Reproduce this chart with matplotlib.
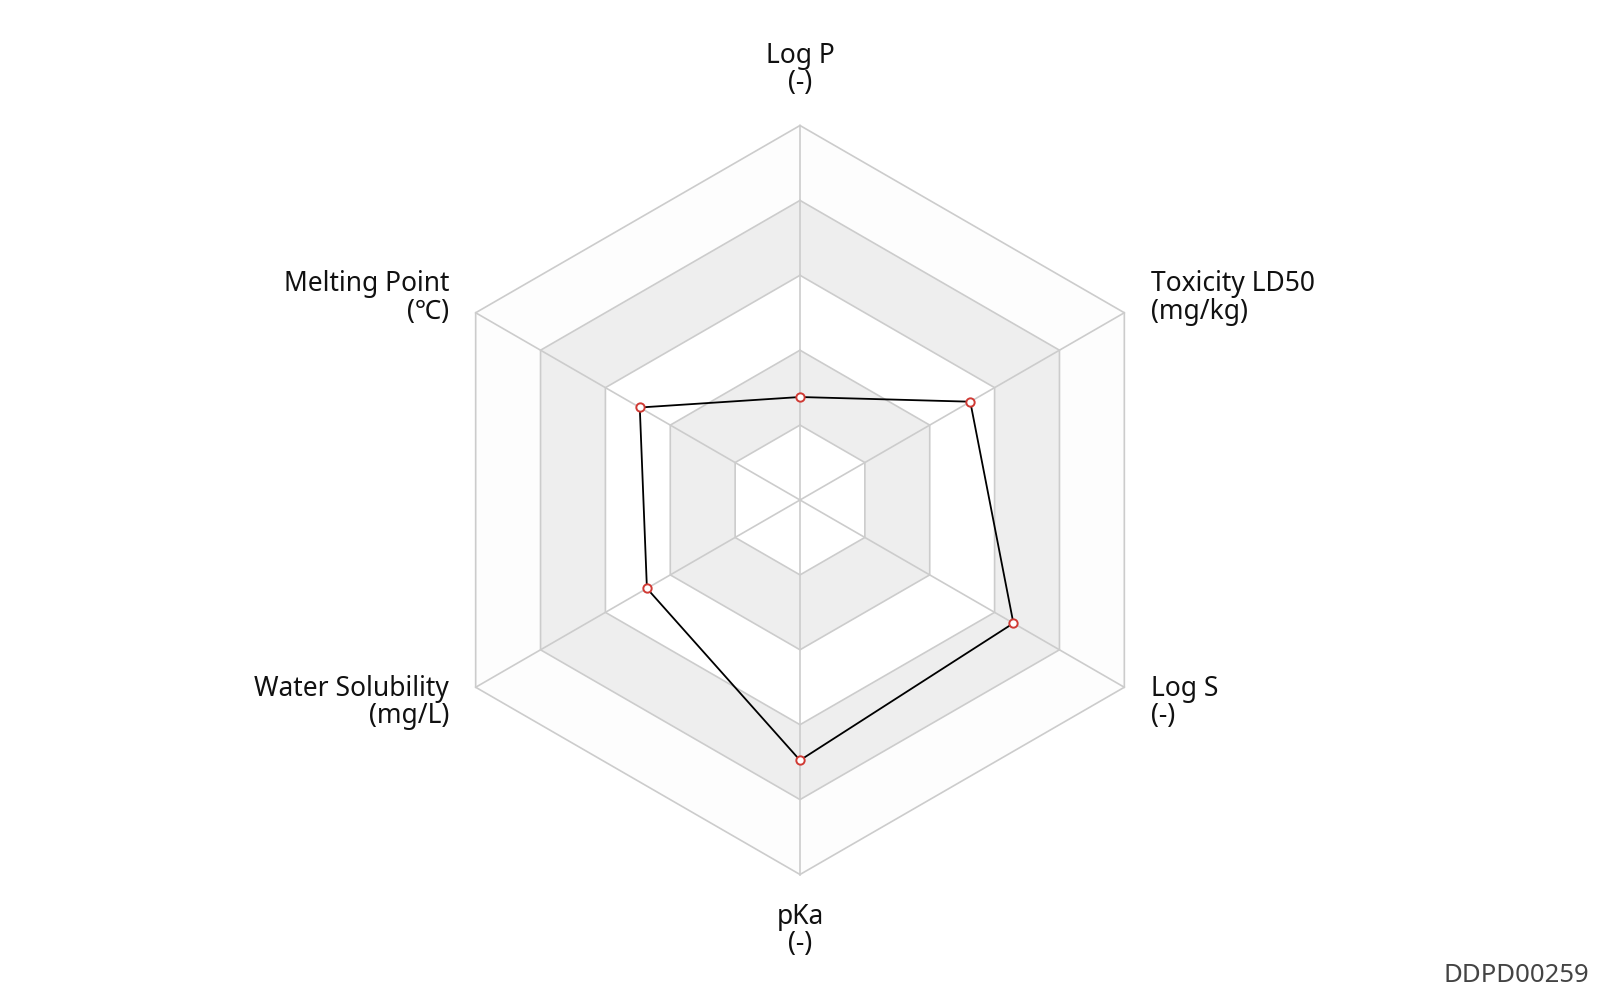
import numpy as np
import matplotlib
matplotlib.use('Agg')
import matplotlib.pyplot as plt

plt.rcParams['font.family'] = ['Noto Sans', 'DejaVu Sans']

# 指标与数值 (归一化到 0~1)
indicators = ['Log P', 'Toxicity LD50', 'Log S', 'pKa', 'Water Solubility', 'Melting Point']
units = ['(-)', '(mg/kg)', '(-)', '(-)', '(mg/L)', '(℃)']
values = [0.275, 0.525, 0.658, 0.695, 0.472, 0.494]
levels = [0.2, 0.4, 0.6, 0.8, 1.0]
band_colors = ['#ffffff', '#eeeeee', '#ffffff', '#eeeeee', '#fdfdfd']

n = len(indicators)
angles = np.pi / 2 - np.arange(n) * 2 * np.pi / n
cx, cy = np.cos(angles), np.sin(angles)

fig = plt.figure(figsize=(16, 10), dpi=100)
ax = fig.add_axes([0, 0, 1, 1])
scale = 374.5
ax.set_xlim(-800 / scale, 800 / scale)
ax.set_ylim(-500 / scale, 500 / scale)
ax.axis('off')

# 分隔区域
for lv, col in zip(levels[::-1], band_colors[::-1]):
    ax.fill(cx * lv, cy * lv, color=col, zorder=1, lw=0)
for lv in levels:
    ax.plot(np.append(cx, cx[0]) * lv, np.append(cy, cy[0]) * lv, color='#cccccc', lw=1.2, zorder=2)
for i in range(n):
    ax.plot([0, cx[i]], [0, cy[i]], color='#cccccc', lw=1.2, zorder=2)

# 数据
v = np.array(values)
px, py = cx * v, cy * v
ax.plot(np.append(px, px[0]), np.append(py, py[0]), color='black', lw=1.3, zorder=3)
ax.plot(px, py, 'o', ms=6, mfc='white', mec='#d03a34', mew=1.4, zorder=4)

# 标签
for i in range(n):
    name = indicators[i] + '\n' + units[i]
    c = cx[i]
    if abs(c) < 1e-6:
        x, y, ha = 0, np.sign(cy[i]) * 1.150, 'center'
        ax.text(x, y, name, ha=ha, va='center', fontsize=19, linespacing=0.98, color='#111111')
    else:
        x = np.sign(c) * 0.937
        y = 0.539 if cy[i] > 0 else -0.541
        ha = 'left' if c > 0 else 'right'
        ax.text(x, y, name, ha=ha, va='center', fontsize=19, linespacing=0.98,
                multialignment=ha, color='#111111')

fig.text(1589 / 1600, 25 / 1000, 'DDPD00259', ha='right', va='center', fontsize=18.5, color='#444444')

fig.savefig('out.png', dpi=100)
